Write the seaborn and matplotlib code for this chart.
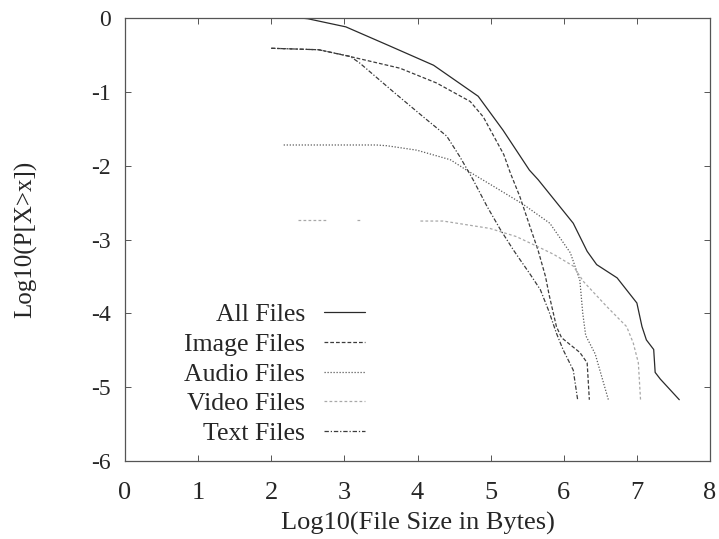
import numpy as np
import pandas as pd
import matplotlib
matplotlib.use("Agg")
import matplotlib.pyplot as plt
import seaborn as sns

# ------------------------------
# Data (log10 size vs log10 CCDF)
# ------------------------------
all_x = [2.40, 2.50, 3.02, 3.60, 4.22, 4.83, 5.17, 5.53, 5.65, 6.13, 6.32, 6.45, 6.73,
         7.00, 7.07, 7.13, 7.23, 7.25, 7.32, 7.58]
all_y = [0.00, -0.01, -0.12, -0.37, -0.64, -1.06, -1.52, -2.06, -2.19, -2.78, -3.16, -3.34, -3.52,
         -3.86, -4.18, -4.36, -4.49, -4.80, -4.89, -5.17]

image_x = [2.00, 2.65, 3.07, 3.76, 4.26, 4.72, 4.90, 5.18, 5.27, 5.40, 5.54, 5.65, 5.75,
           5.80, 5.90, 5.97, 6.22, 6.32, 6.35]
image_y = [-0.41, -0.43, -0.52, -0.68, -0.88, -1.13, -1.34, -1.85, -2.10, -2.42, -2.83, -3.15, -3.50,
           -3.75, -4.18, -4.33, -4.53, -4.67, -5.17]

audio_x = [2.17, 3.44, 3.58, 3.99, 4.45, 4.67, 5.04, 5.44, 5.81, 6.09, 6.22, 6.26, 6.30, 6.43, 6.61]
audio_y = [-1.72, -1.72, -1.73, -1.79, -1.92, -2.06, -2.28, -2.52, -2.78, -3.18, -3.55, -4.00, -4.30,
           -4.55, -5.17]

# video curve has visible breaks in the flat part -> segment ids
video_x = [2.37, 2.76, 3.17, 3.24, 4.04, 4.35, 4.67, 4.99, 5.35, 5.63, 5.86, 6.13, 6.27, 6.59,
           6.86, 6.95, 7.02, 7.05]
video_y = [-2.74, -2.74, -2.74, -2.74, -2.75, -2.75, -2.80, -2.85, -2.96, -3.09, -3.20, -3.36, -3.57,
           -3.91, -4.18, -4.40, -4.67, -5.17]
video_seg = [0, 0, 1, 1, 2, 2, 2, 2, 2, 2, 2, 2, 2, 2, 2, 2, 2, 2]

text_x = [2.00, 2.65, 3.08, 3.21, 3.67, 4.08, 4.40, 4.58, 4.76, 4.95, 5.13, 5.31, 5.40,
          5.54, 5.68, 5.80, 5.90, 5.99, 6.13, 6.19]
text_y = [-0.41, -0.43, -0.52, -0.61, -1.00, -1.34, -1.60, -1.88, -2.19, -2.55, -2.86, -3.14, -3.27,
          -3.47, -3.68, -3.98, -4.27, -4.49, -4.77, -5.17]

x_ticks = [0, 1, 2, 3, 4, 5, 6, 7, 8]
y_ticks = [0, -1, -2, -3, -4, -5, -6]

# ------------------------------
# Style
# ------------------------------
sns.set_style("ticks")
plt.rcParams['font.family'] = ['Liberation Serif', 'DejaVu Serif']
plt.rcParams['axes.unicode_minus'] = False
plt.rcParams['xtick.direction'] = 'in'
plt.rcParams['ytick.direction'] = 'in'

fig = plt.figure(figsize=(7.19, 5.39), dpi=100)
ax = fig.add_axes([125 / 719, 78 / 539, 585 / 719, 443 / 539])

series = [
    ("All Files", all_x, all_y, None, "#2a2a2a", ""),
    ("Image Files", image_x, image_y, None, "#3c3c3c", (3, 1.6)),
    ("Audio Files", audio_x, audio_y, None, "#5a5a5a", (1, 1.4)),
    ("Video Files", video_x, video_y, video_seg, "#a8a8a8", (2.2, 1.8)),
    ("Text Files", text_x, text_y, None, "#3c3c3c", (3.5, 1.5, 1, 1.5)),
]

for name, xs, ys, seg, col, dash in series:
    if seg is None:
        sns.lineplot(x=xs, y=ys, ax=ax, color=col, lw=0.9, sort=False,
                     estimator=None, label=name)
    else:
        sns.lineplot(x=xs, y=ys, units=seg, ax=ax, color=col, lw=0.9, sort=False,
                     estimator=None, label=name)
    for ln in ax.lines:
        if ln.get_label() == name:
            if dash:
                ln.set_dashes(dash)

ax.set_xlim(0, 8)
ax.set_ylim(-6, 0)
ax.set_xticks(x_ticks)
ax.set_yticks(y_ticks)
ax.tick_params(axis='both', which='both', top=True, right=True, length=4, width=0.7,
               color='#555555')
ax.tick_params(axis='x', labelsize=19, pad=15)
ax.tick_params(axis='y', labelsize=17, pad=10)
for sp in ax.spines.values():
    sp.set_visible(True)
    sp.set_color('#555555')
    sp.set_linewidth(0.9)

ax.set_xlabel("Log10(File Size in Bytes)", fontsize=19)
ax.set_ylabel("Log10(P[X>x])", fontsize=18)
ax.xaxis.set_label_coords(0.5, -0.115)
ax.yaxis.set_label_coords(-0.15, 0.5)

# gnuplot-like key: labels right aligned, sample after the text
h, l = ax.get_legend_handles_labels()
uniq = dict(zip(l, h))
leg = ax.legend(list(uniq.values()), list(uniq.keys()), loc='center',
                bbox_to_anchor=(0.256, 0.196), frameon=False, markerfirst=False,
                fontsize=18.5, handlelength=1.6, handletextpad=0.75, labelspacing=0.26,
                borderpad=0)
for t in leg.get_texts():
    t.set_ha('right')

fig.savefig("out.png", dpi=100)
